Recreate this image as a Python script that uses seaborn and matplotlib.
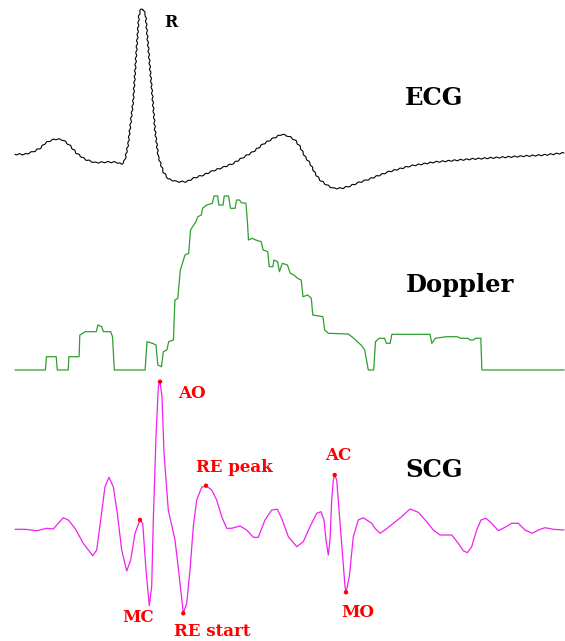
import numpy as np
import pandas as pd
import matplotlib
matplotlib.use("Agg")
import matplotlib.pyplot as plt
import seaborn as sns

# Traces, in image pixel units (x = time, y = downward)
ecg_x = [15, 25, 33.3, 40, 45, 51.7, 56.7, 63.3, 70, 76.7, 85, 95, 106.7, 116.7, 121.7, 125,
         128.3, 131, 133.3, 136.5, 139, 141, 143, 145.5, 148.5, 151, 152.7, 155, 158.3, 163.3,
         168.3, 176.7, 186.7, 193.3, 203.3, 213.3, 223.3, 233.3, 243.3, 253.3, 263.3, 273.3,
         281.7, 288.3, 295, 300, 305, 310, 315, 320, 326.7, 333.3, 341.7, 350, 358.3, 366.7,
         388, 410, 435, 472, 508, 544, 564]
ecg_y = [154.3, 154.3, 151.7, 148.3, 143.3, 140, 139, 140, 145.7, 153.3, 159.3, 162.7, 162,
         162.3, 164.3, 160, 143.3, 120, 100, 50, 15, 9, 9, 15, 50, 80, 100, 130, 156.7, 171.7,
         179, 181.7, 181.7, 178.3, 175, 170.7, 167.3, 163.3, 157.3, 151.7, 144, 138.3, 134.3,
         136, 140, 146.7, 156.7, 163.3, 173.3, 180, 185, 188.3, 188.3, 186, 182.7, 180,
         172, 166, 162, 159, 157, 155, 153]

doppler_x = [15, 45.4, 46.4, 56.2, 57.3, 68.2, 68.9, 79.1, 79.8, 85.3, 96.2, 98, 101.6, 103.4,
             110.7, 112.5, 114.3, 145.1, 147, 152.4, 156, 157.8, 161.5, 163.3, 166.9, 168.7,
             173.4, 174.9, 177.8, 180.3, 185, 188.7, 190.5, 195.9, 197.8, 201.4, 202.5, 206.8,
             212.3, 214.1, 217.7, 218.8, 223.1, 224.2, 228.6, 230.4, 235.1, 236.6, 239.5,
             241.3, 246, 247.5, 248.5, 252.2, 255.8, 261.2, 263.1, 267.8, 269.2, 272.9, 273.9,
             277.6, 279.4, 282.3, 287.4, 290.3, 293.9, 297.5, 301.2, 303, 307.7, 311.3, 312.8,
             322.9, 324.7, 328.4, 348.3, 353.8, 357.4, 361, 364.7, 368.3, 373.7, 375.5, 379.2,
             384.6, 386.4, 390.1, 391.9, 430, 431.8, 435.4, 446.3, 457.2, 460.8, 468.1, 469.9,
             473.5, 475.3, 480.8, 481.9, 564.2]
doppler_y = [370, 370, 356.7, 356.7, 370, 370, 356.7, 356.7, 335, 331.7, 331.7, 325, 326.7,
             331.7, 331.7, 336.7, 370, 370, 341.7, 343.3, 345, 365, 366.7, 351.7, 350, 341.7,
             340, 300, 298.3, 270, 255, 253.3, 230, 221.7, 216.7, 215, 208.3, 205, 203.3, 196,
             196, 205, 205, 196, 196, 208.3, 208.3, 200, 200, 202.7, 203.3, 223.3, 240, 238.3,
             240, 241.7, 250, 251.7, 266.7, 266.7, 260, 261.7, 271.7, 263.3, 265, 273.3, 275,
             278.3, 280, 296.7, 295, 298.3, 315, 316.7, 330, 333.3, 334, 338.3, 341.7, 345,
             350, 370, 370, 341.7, 338.3, 338.3, 343.3, 343.3, 334.3, 334.3, 343.3, 338.3,
             336.7, 336.7, 338.3, 338.3, 340, 340, 338.3, 338.3, 370, 370]

scg_x = [15, 25, 36.7, 46.7, 53.3, 58.3, 63.3, 68.3, 75, 83.3, 92.7, 96.7, 100.7, 105, 109,
         113.3, 117.3, 121.7, 126.7, 130.7, 135, 140, 142.7, 146, 149.3, 151.7, 153.3, 156,
         158.3, 160, 162, 164, 168.3, 175, 179.3, 183.3, 186.7, 190, 193.3, 196.7, 201.7,
         206, 211.7, 216.7, 221.7, 226.7, 231.7, 240, 246.7, 253.3, 258.3, 265, 271.7,
         277.3, 281.7, 288.3, 296.7, 303.3, 310, 316.7, 321, 324, 326, 328.3, 330, 331.7,
         333.3, 334.7, 336.7, 339.3, 342.7, 345, 346, 349.3, 353.3, 358.3, 363.3, 371.7,
         375, 380, 385, 393.3, 401.7, 410, 418.3, 426.7, 433.3, 440, 451.7, 458.3, 463.3,
         467.3, 471.7, 476.7, 481, 486, 491.7, 498.3, 505, 511.7, 518.3, 525, 532.3, 538.3,
         545, 553.3, 564]
scg_y = [529.3, 529.3, 530.7, 528.3, 529, 523.3, 517.7, 520, 528.3, 543.3, 555.7, 550, 520,
         486.7, 477.3, 486.7, 513.3, 550, 571, 560, 533.3, 520, 523.3, 570, 605.7, 586.7,
         520, 436.7, 386.7, 381.7, 396.7, 453, 510, 540, 576.7, 613.3, 603.3, 570, 526.7,
         500, 487.3, 485.7, 490, 500, 516.7, 528.3, 528.3, 526, 530, 537.3, 537.3, 520, 510,
         509.3, 518.3, 536.7, 546.7, 541.7, 526.7, 513.3, 511.7, 520, 540, 555, 540, 500,
         480, 475, 480, 513.3, 556.7, 586.7, 592.3, 576.7, 536.7, 520, 517.7, 523.3,
         528.3, 533.3, 530, 523.3, 516.7, 509, 512.3, 521.7, 530, 535, 535, 543.3, 550.7,
         552.7, 546.7, 530, 520, 518.3, 523.3, 530.7, 527.3, 523.3, 523.3, 530, 533.3, 530,
         527.7, 529.3, 530]

# SCG fiducial points
event_names = ["MC", "AO", "RE start", "RE peak", "AC", "MO"]
event_x = [140, 160, 183.3, 206, 334.7, 346]
event_y = [520, 381.7, 613.3, 485.7, 475, 592.3]
label_x = [138, 192, 212, 234, 338, 357.5]
label_y = [622.5, 398, 636, 472, 460, 616.7]

trace_names = ["ECG", "Doppler", "SCG", "R"]
trace_lab_x = [434.5, 460.5, 434.5, 171]
trace_lab_y = [105, 291.7, 476.7, 26.7]
trace_lab_size = [17.5, 17.5, 17.5, 11.5]

sns.set_style("white")
plt.rcParams['font.family'] = ['DejaVu Serif']

fig = plt.figure(figsize=(5.65, 6.41), dpi=100)
ax = fig.add_axes([0, 0, 1, 1])

sns.lineplot(x=ecg_x, y=ecg_y, sort=False, estimator=None, color="black", lw=0.8, ax=ax)
sns.lineplot(x=doppler_x, y=doppler_y, sort=False, estimator=None, color="#2e9e2e", lw=0.9, ax=ax)
sns.lineplot(x=scg_x, y=scg_y, sort=False, estimator=None, color="#f020f0", lw=0.9, ax=ax)
# ECG has a fine ripple; mimic it with a sketch style on the line
ax.lines[0].set_sketch_params(scale=0.6, length=6, randomness=1)
sns.scatterplot(x=event_x, y=event_y, color="red", s=10, edgecolor="none", zorder=5, ax=ax)

for name, lx, ly in zip(event_names, label_x, label_y):
    ax.text(lx, ly, name, color="red", fontsize=12, fontweight="bold",
            ha="center", va="baseline")
for name, lx, ly, fs in zip(trace_names, trace_lab_x, trace_lab_y, trace_lab_size):
    ax.text(lx, ly, name, color="black", fontsize=fs, fontweight="bold",
            ha="center", va="baseline")

ax.set_xlim(0, 565)
ax.set_ylim(641, 0)
ax.axis("off")

fig.savefig("out.png", dpi=100, facecolor="white")
